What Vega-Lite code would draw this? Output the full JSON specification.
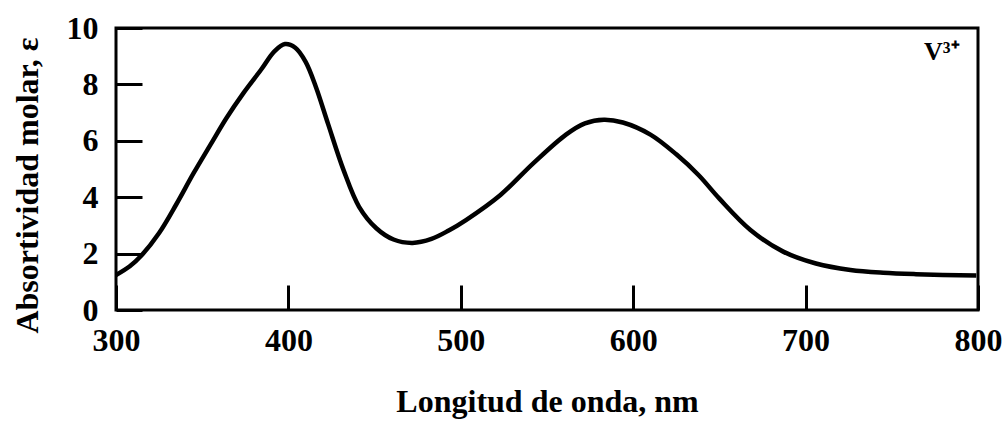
{
  "$schema": "https://vega.github.io/schema/vega-lite/v6.json",
  "width": 862,
  "height": 282,
  "autosize": {"type": "none"},
  "padding": {"left": 116, "top": 28, "right": 25, "bottom": 115},
  "background": "white",
  "config": {
    "view": {"stroke": "black", "strokeWidth": 3},
    "font": "Liberation Serif",
    "axis": {
      "grid": false,
      "domain": false,
      "labelFont": "Liberation Serif",
      "labelFontSize": 32,
      "labelFontWeight": "bold",
      "labelColor": "black",
      "labelFlush": false,
      "titleFont": "Liberation Serif",
      "titleFontSize": 32,
      "titleFontWeight": "bold",
      "titleColor": "black",
      "tickColor": "black",
      "tickWidth": 3
    }
  },
  "data": {
    "values": [
      {"wl": 300, "e": 1.24}, {"wl": 308, "e": 1.55}, {"wl": 315, "e": 1.95},
      {"wl": 325, "e": 2.73}, {"wl": 335, "e": 3.75}, {"wl": 345, "e": 4.85},
      {"wl": 355, "e": 5.88}, {"wl": 364, "e": 6.80}, {"wl": 374, "e": 7.70},
      {"wl": 384, "e": 8.51}, {"wl": 392, "e": 9.18}, {"wl": 398, "e": 9.43},
      {"wl": 404, "e": 9.30}, {"wl": 410, "e": 8.80}, {"wl": 416, "e": 7.90},
      {"wl": 423, "e": 6.60}, {"wl": 432, "e": 4.96}, {"wl": 441, "e": 3.66},
      {"wl": 451, "e": 2.90}, {"wl": 461, "e": 2.50}, {"wl": 472, "e": 2.38},
      {"wl": 483, "e": 2.52}, {"wl": 493, "e": 2.82}, {"wl": 503, "e": 3.19},
      {"wl": 523, "e": 4.08}, {"wl": 542, "e": 5.20}, {"wl": 561, "e": 6.22},
      {"wl": 572, "e": 6.62}, {"wl": 583, "e": 6.75}, {"wl": 594, "e": 6.65},
      {"wl": 610, "e": 6.22}, {"wl": 625, "e": 5.52}, {"wl": 638, "e": 4.78},
      {"wl": 650, "e": 3.95}, {"wl": 668, "e": 2.84}, {"wl": 687, "e": 2.07},
      {"wl": 706, "e": 1.65}, {"wl": 726, "e": 1.42}, {"wl": 745, "e": 1.32},
      {"wl": 764, "e": 1.27}, {"wl": 799, "e": 1.22}
    ]
  },
  "layer": [
    {
      "mark": {"type": "line", "color": "black", "strokeWidth": 4.5, "interpolate": "catmull-rom"},
      "encoding": {
        "x": {
          "field": "wl", "type": "quantitative",
          "scale": {"domain": [300, 800], "nice": false},
          "axis": {
            "title": "Longitud de onda, nm",
            "values": [300, 400, 500, 600, 700, 800],
            "tickSize": -25,
            "labelPadding": 40,
            "titlePadding": 30
          }
        },
        "y": {
          "field": "e", "type": "quantitative",
          "scale": {"domain": [0, 10], "nice": false},
          "axis": {
            "title": "Absortividad molar, ε",
            "values": [0, 2, 4, 6, 8, 10],
            "tickSize": -26,
            "labelPadding": 44,
            "titlePadding": 22,
            "titleY": 157,
            "labelBaseline": "middle"
          }
        }
      }
    },
    {
      "data": {"values": [{"wl": 779, "e": 9.15, "label": "V³⁺"}]},
      "mark": {"type": "text", "font": "Liberation Serif", "fontSize": 26, "fontWeight": "bold", "color": "black"},
      "encoding": {
        "x": {"field": "wl", "type": "quantitative"},
        "y": {"field": "e", "type": "quantitative"},
        "text": {"field": "label"}
      }
    }
  ]
}
